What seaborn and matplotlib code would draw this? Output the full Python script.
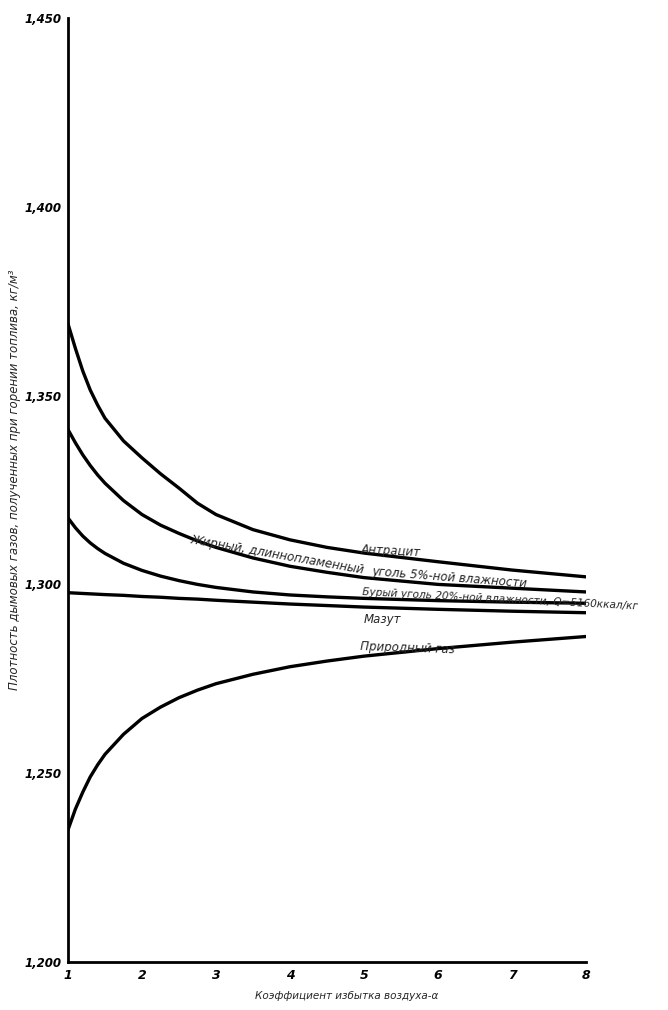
import matplotlib
matplotlib.use("Agg")
import matplotlib.pyplot as plt
import seaborn as sns
import pandas as pd

# ---- data ----
alpha = [1, 1.1, 1.2, 1.3, 1.4, 1.5, 1.75, 2, 2.25, 2.5, 2.75, 3, 3.5, 4, 4.5, 5, 6, 7, 8]
anthracite = [1.369, 1.3625, 1.3565, 1.3515, 1.3475, 1.3440, 1.3380, 1.3335, 1.3293, 1.3255,
              1.3215, 1.3185, 1.3145, 1.3118, 1.3098, 1.3083, 1.3060, 1.3038, 1.3020]
fat_coal = [1.341, 1.3375, 1.3343, 1.3315, 1.3290, 1.3268, 1.3222, 1.3185, 1.3157, 1.3135,
            1.3115, 1.3098, 1.3070, 1.3048, 1.3032, 1.3018, 1.3000, 1.2990, 1.2980]
brown_coal = [1.3176, 1.3150, 1.3128, 1.3110, 1.3095, 1.3082, 1.3056, 1.3037, 1.3022, 1.3010,
              1.3000, 1.2992, 1.2980, 1.2972, 1.2967, 1.2963, 1.2957, 1.2953, 1.2950]
mazut = [1.2978, 1.2977, 1.2976, 1.2975, 1.2974, 1.2973, 1.2971, 1.2968, 1.2966, 1.2963,
         1.2961, 1.2958, 1.2953, 1.2948, 1.2944, 1.2940, 1.2934, 1.2929, 1.2925]
natural_gas = [1.2350, 1.2405, 1.2450, 1.2490, 1.2522, 1.2550, 1.2603, 1.2645, 1.2675, 1.2700,
               1.2720, 1.2737, 1.2762, 1.2782, 1.2797, 1.2810, 1.2830, 1.2847, 1.2862]

series_names = ["Антрацит", "Жирный", "Бурый", "Мазут", "Природный газ"]
x_ticks = [1, 2, 3, 4, 5, 6, 7, 8]
y_ticks = [1.200, 1.250, 1.300, 1.350, 1.400, 1.450]
y_tick_labels = ["1,200", "1,250", "1,300", "1,350", "1,400", "1,450"]

rows = []
for name, vals in zip(series_names, [anthracite, fat_coal, brown_coal, mazut, natural_gas]):
    for a, v in zip(alpha, vals):
        rows.append({"alpha": a, "rho": v, "fuel": name})
df = pd.DataFrame(rows)

sns.set_style("white")
plt.rcParams["font.family"] = ["DejaVu Sans"]
plt.rcParams["font.style"] = "italic"

fig = plt.figure(figsize=(6.68, 10.10), dpi=100)
ax = fig.add_axes([68 / 668, 48 / 1010, (586 - 68) / 668, (962 - 18) / 1010])

sns.lineplot(data=df, x="alpha", y="rho", units="fuel", estimator=None,
             color="black", lw=2.4, ax=ax, legend=False)

ax.set_xlim(1, 8)
ax.set_ylim(1.2, 1.45)
ax.set_xticks(x_ticks)
ax.set_xticklabels([str(t) for t in x_ticks], fontsize=9, fontweight="bold", style="italic")
ax.set_yticks(y_ticks)
ax.set_yticklabels(y_tick_labels, fontsize=8.5, fontweight="bold", style="italic")
ax.tick_params(direction="in", length=4, width=1.2, colors="black", pad=5)
for s in ["top", "right"]:
    ax.spines[s].set_visible(False)
for s in ["left", "bottom"]:
    ax.spines[s].set_linewidth(2)
    ax.spines[s].set_color("black")
ax.set_xlabel("")
ax.set_ylabel("")

fig.text(347 / 668, 1 - 996 / 1010, "Коэффициент избытка воздуха-α", ha="center", va="center",
         fontsize=7.5, style="italic")
fig.text(15 / 668, 1 - 480 / 1010,
         "Плотность дымовых газов, полученных при горении топлива, кг/м³",
         rotation=90, ha="center", va="center", fontsize=8.5, style="italic")

tk = dict(fontsize=8.5, style="italic", rotation_mode="anchor", ha="left", va="baseline")
ax.text(4.95, 1.3082, "Антрацит", rotation=-3, **tk)
ax.text(2.65, 1.3110, "Жирный, длиннопламенный", rotation=-10, **tk)
ax.text(5.1, 1.3024, "уголь 5%-ной влажности", rotation=-4.5, **tk)
ax.text(4.97, 1.2972, "Бурый уголь 20%-ной влажности, Q=5160ккал/кг", rotation=-3,
        **{**tk, "fontsize": 7.6})
ax.text(5.0, 1.2898, "Мазут", rotation=0, **tk)
ax.text(4.95, 1.2826, "Природный газ", rotation=-2, **tk)

fig.savefig("out.png", dpi=100)
